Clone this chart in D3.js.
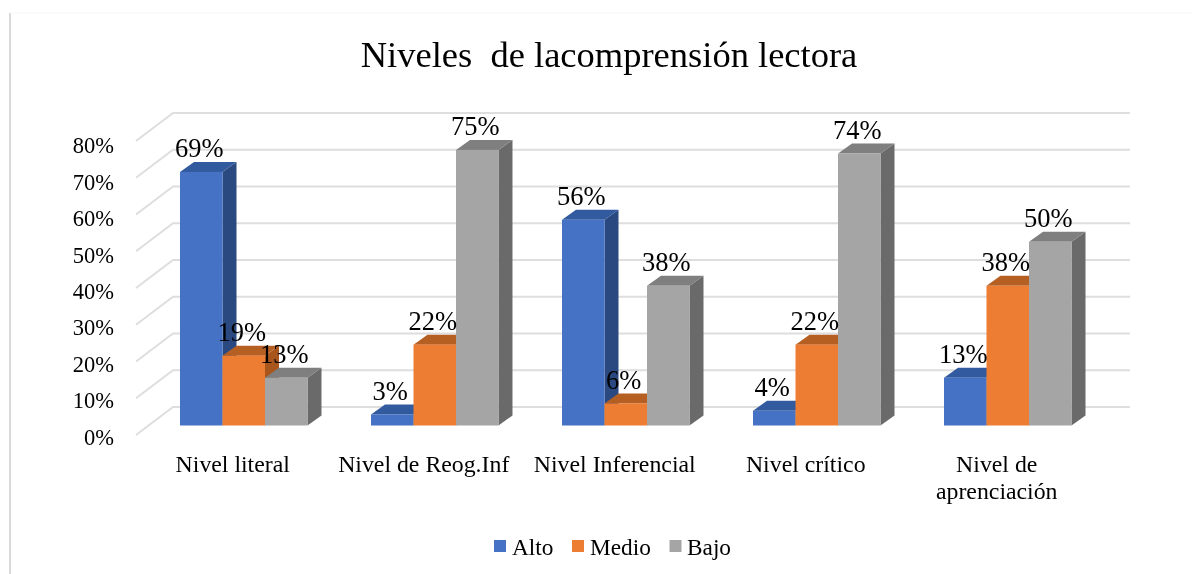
<!DOCTYPE html>
<html><head><meta charset="utf-8">
<script src="https://cdn.jsdelivr.net/npm/d3@7/dist/d3.min.js"></script>
<style>html,body{margin:0;padding:0;background:#fff}svg{display:block}text{font-family:"Liberation Serif",serif;fill:#000;white-space:pre}</style>
</head><body><script>
const title = "Niveles  de lacomprensión lectora";
const categories = [["Nivel literal"],["Nivel de Reog.Inf"],["Nivel Inferencial"],["Nivel crítico"],["Nivel de","aprenciación"]];
const seriesNames = ["Alto","Medio","Bajo"];
const alto  = [69,3,56,4,13];
const medio = [19,22,6,22,38];
const bajo  = [13,75,38,74,50];
const yTicks = [0,10,20,30,40,50,60,70,80];
const frontColors = ["#4472c4","#ed7d31","#a5a5a5"];
const topColors   = ["#335a9e","#b65f24","#7f7f7f"];
const sideColors  = ["#2c4a80","#a9561f","#6b6b6b"];
const seriesValues = [alto, medio, bajo];

const W=1192,H=574, dx=14, dy=10;
const svg=d3.select("body").append("svg").attr("width",W).attr("height",H);
const defs=svg.append("defs");
defs.append("filter").attr("id","soft").append("feGaussianBlur").attr("stdDeviation",0.45);
const root=svg.append("g").attr("filter","url(#soft)");

root.append("line").attr("x1",10).attr("x2",10).attr("y1",13).attr("y2",574).attr("stroke","#d9d9d9").attr("stroke-width",2);
root.append("line").attr("x1",10).attr("x2",1192).attr("y1",13).attr("y2",13).attr("stroke","#f6f6f6").attr("stroke-width",1);

const y=d3.scaleLinear().domain([0,80]).range([425.5,131.5]);
const x=d3.scaleBand().domain(d3.range(categories.length)).range([180,1071.5]).paddingInner(0.3325).paddingOuter(0);
const xs=d3.scaleBand().domain(d3.range(seriesNames.length)).range([0,x.bandwidth()]);

// walls
const grid=root.append("g").attr("fill","none").attr("stroke","#dedede").attr("stroke-width",2);
yTicks.forEach(t=>{
  const yb=y(t)-18.5, yf=y(t)+9.5;
  grid.append("path").attr("d",d3.line()([[136,yf],[173,yb],[1130,yb]]));
});

// bars: left to right so each bar hides the side of the previous one
categories.forEach((c,i)=>{
  seriesValues.forEach((vals,s)=>{
    const v=vals[i], x0=x(i)+xs(s), x1=x0+xs.bandwidth(), yt=y(v), yb=y(0);
    const g=root.append("g");
    g.append("path").attr("fill",sideColors[s]).attr("d",d3.line()([[x1,yt],[x1+dx,yt-dy],[x1+dx,yb-dy],[x1,yb]])+"Z");
    g.append("path").attr("fill",topColors[s]).attr("d",d3.line()([[x0,yt],[x0+dx,yt-dy],[x1+dx,yt-dy],[x1,yt]])+"Z");
    g.append("rect").attr("x",x0).attr("y",yt).attr("width",x1-x0).attr("height",yb-yt).attr("fill",frontColors[s]);
  });
});

// data labels
categories.forEach((c,i)=>{
  seriesValues.forEach((vals,s)=>{
    const v=vals[i];
    root.append("text").attr("x",x(i)+xs(s)+xs.bandwidth()/2-2).attr("y",y(v)-14.5)
      .attr("text-anchor","middle").attr("font-size",26.5).text(v+"%");
  });
});

// y axis
const axis=d3.axisLeft(d3.scaleLinear().domain(y.domain()).range([437,145.5]))
  .tickValues(yTicks).tickSize(0).tickPadding(0).tickFormat(d=>d+"%");
const ag=root.append("g").attr("transform","translate(114,0)").call(axis);
ag.select(".domain").remove();
ag.selectAll("text").attr("font-size",22.5).attr("font-family","Liberation Serif").attr("fill","#000");

// category labels
categories.forEach((c,i)=>{
  c.forEach((line,k)=>{
    root.append("text").attr("x",x(i)+x.bandwidth()/2-11).attr("y",472+k*27).attr("text-anchor","middle").attr("font-size",23.8).text(line);
  });
});

// title
root.append("text").attr("x",609).attr("y",67).attr("text-anchor","middle").attr("font-size",36.5).text(title);

// legend
const legX=[494,572,669.5], legT=[512,590,687];
seriesNames.forEach((n,i)=>{
  root.append("rect").attr("x",legX[i]).attr("y",540).attr("width",12).attr("height",12).attr("fill",frontColors[i]);
  root.append("text").attr("x",legT[i]).attr("y",555).attr("font-size",23.3).text(n);
});
</script></body></html>
